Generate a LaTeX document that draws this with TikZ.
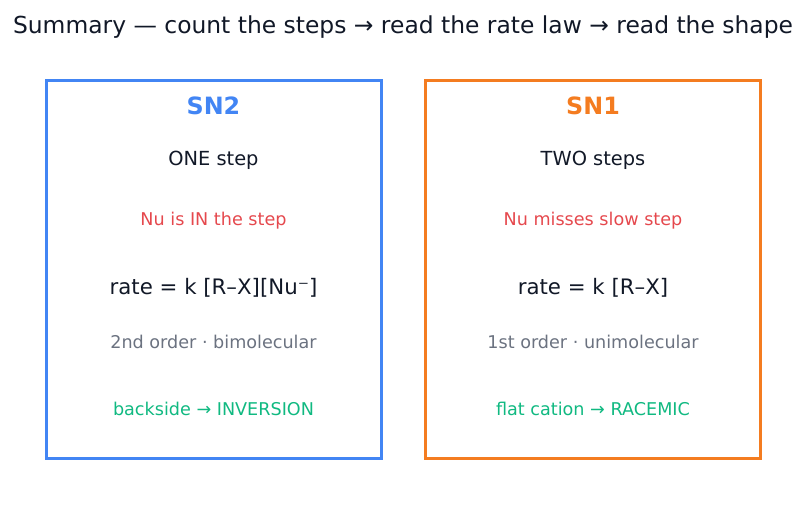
\documentclass[tikz,border=0pt]{standalone}
\usepackage{fontspec}
\setmainfont{DejaVu Sans}
\usetikzlibrary{positioning}
\definecolor{snblue}{HTML}{4285F4}
\definecolor{snorange}{HTML}{F47C20}
\definecolor{snred}{HTML}{E5484D}
\definecolor{sngray}{HTML}{6B7280}
\definecolor{sngreen}{HTML}{10B981}
\definecolor{sndark}{HTML}{111827}
\begin{document}
\begin{tikzpicture}[x=1pt, y=-1pt,
  every node/.style={inner sep=0pt, anchor=center},
  panel/.style={draw, line width=3pt, minimum width=335pt, minimum height=377pt},
  head/.style={font=\fontsize{23.8}{28}\selectfont\bfseries},
  steps/.style={font=\fontsize{19.4}{23}\selectfont, text=sndark},
  nuline/.style={font=\fontsize{17.6}{21}\selectfont, text=snred},
  rate/.style={font=\fontsize{21.3}{25}\selectfont, text=sndark},
  order/.style={font=\fontsize{17.6}{21}\selectfont, text=sngray},
  result/.style={font=\fontsize{17.6}{21}\selectfont, text=sngreen}]
\useasboundingbox (0,0) rectangle (806,510);
\node[font=\fontsize{23.4}{28}\selectfont, text=sndark] (title) at (403,27)
  {Summary — count the steps → read the rate law → read the shape};
% SN2 panel
\node[panel, draw=snblue] (sntwo) at (213.5,269.5) {};
\node[head, text=snblue] (sntwohead) at (213.5,105.5) {SN2};
\node[steps] (sntwosteps) at (213.5,160) {ONE step};
\node[nuline] (sntwonu) at (213.5,221) {Nu is IN the step};
\node[rate] (sntworate) at (213.5,288) {rate = k [R–X][Nu⁻]};
\node[order] (sntwoorder) at (213.5,342) {2nd order · bimolecular};
\node[result] (sntworesult) at (213.5,409) {backside → INVERSION};
% SN1 panel
\node[panel, draw=snorange] (snone) at (593,269.5) {};
\node[head, text=snorange] (snonehead) at (593,105.5) {SN1};
\node[steps] (snonesteps) at (593,160) {TWO steps};
\node[nuline] (snonenu) at (593,221) {Nu misses slow step};
\node[rate] (snonerate) at (593,288) {rate = k [R–X]};
\node[order] (snoneorder) at (593,342) {1st order · unimolecular};
\node[result] (snoneresult) at (593,409) {flat cation → RACEMIC};
\end{tikzpicture}
\end{document}
